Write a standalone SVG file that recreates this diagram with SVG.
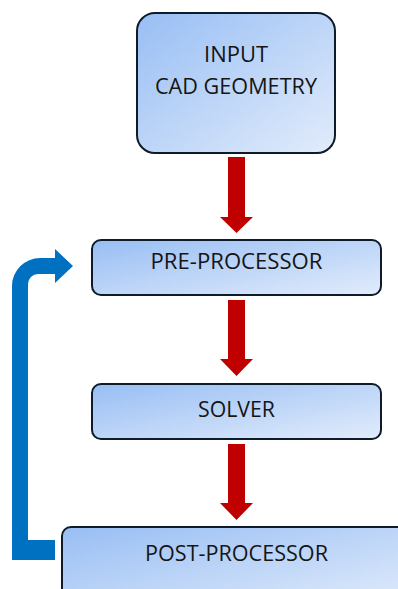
<svg xmlns="http://www.w3.org/2000/svg" width="398" height="589" viewBox="0 0 398 589">
  <defs>
    <linearGradient id="boxGrad" x1="0" y1="0" x2="1" y2="1">
      <stop offset="0" stop-color="#98BEF4"/>
      <stop offset="1" stop-color="#E2ECFB"/>
    </linearGradient>
  </defs>
  <style>
    .box { fill: url(#boxGrad); stroke: #0E1B29; stroke-width: 2; }
    .lbl { font-family: "Open Sans", "Liberation Sans", sans-serif; font-size: 21.5px; fill: #151515; text-anchor: middle; }
    .red { fill: #C00000; }
    .blue { fill: #0070C0; }
  </style>
  <rect width="398" height="589" fill="#FFFFFF"/>
  <g id="connectors">
    <path class="red" d="M228,157 H245 V217 H253 L236.5,233 L220,217 H228 Z"/>
    <path class="red" d="M228,300 H245 V359 H253 L236.5,376 L220,359 H228 Z"/>
    <path class="red" d="M228,444 H245 V503 H253 L236.5,520 L220,503 H228 Z"/>
    <path class="blue" d="M55,560 H12 V286 A28,28 0 0 1 40,258 H55 V249 L73,266 L55,283 V274 H38 A10,10 0 0 0 28,284 V540 H55 Z"/>
  </g>
  <g id="input">
    <rect class="box" x="137" y="13" width="198" height="140" rx="18"/>
    <text class="lbl" x="236" y="62" textLength="64" lengthAdjust="spacingAndGlyphs">INPUT</text>
    <text class="lbl" x="236" y="94" textLength="162" lengthAdjust="spacingAndGlyphs">CAD GEOMETRY</text>
  </g>
  <g id="pre-processor">
    <rect class="box" x="92" y="240" width="289" height="55" rx="9"/>
    <text class="lbl" x="236.5" y="269" textLength="172" lengthAdjust="spacingAndGlyphs">PRE-PROCESSOR</text>
  </g>
  <g id="solver">
    <rect class="box" x="92" y="384" width="289" height="55" rx="9"/>
    <text class="lbl" x="236.5" y="417" textLength="77" lengthAdjust="spacingAndGlyphs">SOLVER</text>
  </g>
  <g id="post-processor">
    <rect class="box" x="62" y="527" width="350" height="80" rx="9"/>
    <text class="lbl" x="236.5" y="561" textLength="183" lengthAdjust="spacingAndGlyphs">POST-PROCESSOR</text>
  </g>
</svg>
